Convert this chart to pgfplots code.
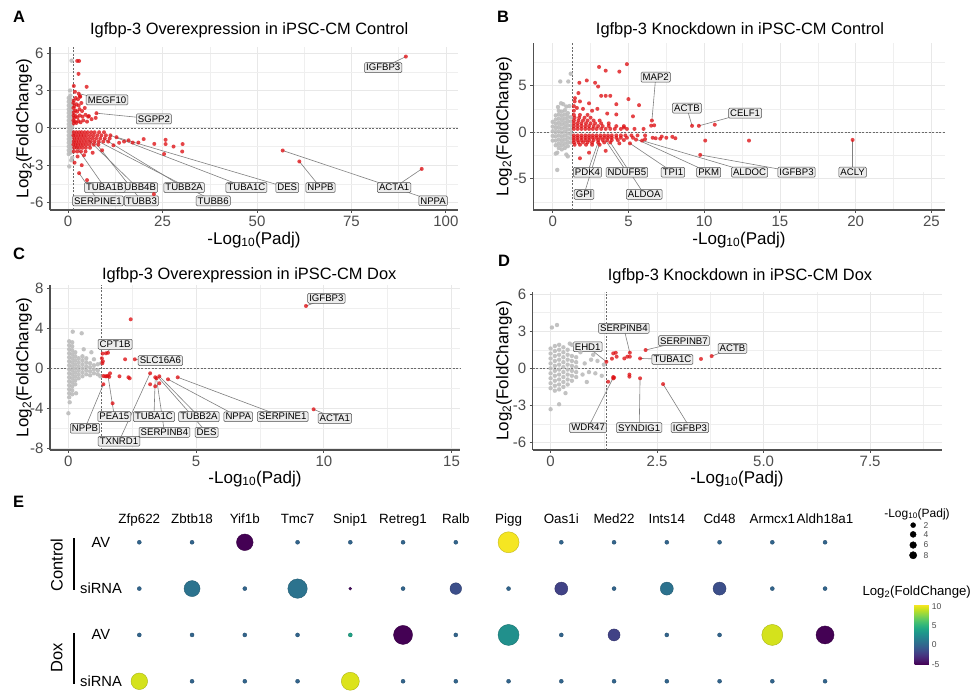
\documentclass[border=0pt]{standalone}
\usepackage{pgfplots}
\pgfplotsset{compat=1.18}
\usepackage{fontspec}
\setmainfont{Liberation Sans}

\definecolor{ptred}{RGB}{222,16,20}
\definecolor{ptgrey}{RGB}{188,188,188}
\definecolor{axgrey}{RGB}{80,80,80}
\definecolor{tickgrey}{RGB}{77,77,77}
\definecolor{gridc}{RGB}{232,232,232}
\definecolor{lblfill}{RGB}{236,236,236}
\newcommand\fs[1]{\fontsize{#1}{#1}\selectfont}

\pgfplotsset{
  volc/.style={
    scale only axis, clip=false,
    axis lines*=left,
    axis line style={draw=axgrey, line width=1.2pt},
    tick align=outside, major tick length=3pt, minor tick length=0pt,
    tick style={draw=axgrey, line width=0.9pt},
    grid=both,
    major grid style={draw=gridc, line width=0.8pt},
    minor grid style={draw=gridc!70, line width=0.5pt},
    tick label style={font=\fs{15}, text=tickgrey},
    /pgf/number format/assume math mode=true,
  },
  grey pts/.style={only marks, mark=*, mark size=2.2pt, color=ptgrey,
    mark options={fill=ptgrey, draw=ptgrey, draw opacity=0, fill opacity=0.9}},
  red pts/.style={only marks, mark=*, mark size=2pt, color=ptred,
    mark options={fill=ptred, draw=ptred, draw opacity=0, fill opacity=0.78}},
}
\tikzset{
  conn/.style={draw=gray, line width=0.6pt},
  lbl/.style={draw=axgrey, line width=0.5pt, fill=lblfill, rounded corners=1.2pt, inner sep=1.6pt, font=\fs{9.6}, text=black},
  thr/.style={draw=axgrey!85, dash pattern=on 2pt off 1.5pt, line width=0.6pt},
}

\begin{document}
\begin{tikzpicture}[x=1pt,y=1pt]
\useasboundingbox (0,0) rectangle (971,692);
\fill[white] (0,0) rectangle (971,692);

% ---------------- A
\begin{axis}[volc, at={(50pt,482pt)}, anchor=south west, width=408pt, height=163pt,
  xmin=-4.8, xmax=103.2, ymin=-6.6, ymax=6.5,
  xtick={0,25,50,75,100}, ytick={-6,-3,0,3,6},
  minor xtick={12.5,37.5,62.5,87.5}, minor ytick={-4.5,-1.5,1.5,4.5}]
\draw[thr] (axis cs:1.301,-6.6) -- (axis cs:1.301,6.5);
\draw[thr] (axis cs:-4.8,0) -- (axis cs:103.2,0);
\addplot[grey pts] coordinates {
(0.15,-2.1)(0.15,-1.8)(0.15,-1.5)(0.15,-1.2)(0.15,-0.9)(0.15,-0.6)(0.15,-0.3)(0.15,0)(0.15,0.3)(0.15,0.6)(0.15,0.9)(0.15,1.2)(0.15,1.5)(0.15,1.8)(0.15,2.1)(0.15,2.4)
(0.6,-2.0)(0.6,-1.65)(0.6,-1.35)(0.6,-1.05)(0.6,-0.75)(0.6,-0.45)(0.6,-0.15)(0.6,0.15)(0.6,0.45)(0.6,0.75)(0.6,1.05)(0.6,1.35)(0.6,1.65)(0.6,1.95)(0.6,2.3)(0.6,2.6)
(1.05,-1.9)(1.05,-1.5)(1.05,-1.1)(1.05,-0.7)(1.05,-0.3)(1.05,0.1)(1.05,0.5)(1.05,0.9)(1.05,1.3)(1.05,1.7)(1.05,2.1)
(0.9,5.4)(0.3,-3.1)(0.8,-2.6)(0.5,3.0)(1.1,-2.4)
};
\addplot[red pts] coordinates {
(1.5,0.35)(1.8,0.5)(2.2,0.4)(2.7,0.55)(3.3,0.45)(4.0,0.6)(5.0,0.5)(6.2,0.7)(7.3,0.8)
(1.6,0.8)(2.0,0.95)(2.5,0.85)(3.1,1.0)(3.8,0.9)(4.6,1.05)(5.5,0.95)
(1.5,1.25)(1.9,1.4)(2.4,1.3)(3.0,1.5)(3.7,1.35)(4.4,1.6)
(1.7,1.75)(2.2,1.9)(2.8,1.8)(3.5,2.0)
(1.5,2.2)(2.0,2.4)(2.6,2.3)(3.2,2.5)
(1.4,0.6)(1.45,1.0)(1.4,1.6)(1.4,2.0)
(2.4,5.38)(2.9,5.38)(2.75,4.34)(1.5,3.37)(4.9,3.3)(2.8,2.75)(3.1,2.55)(7.5,1.18)(5.3,0.9)(1.8,2.9)
(1.5,-0.35)(2.2,-0.35)(2.9,-0.35)(3.6,-0.35)(4.4,-0.35)(5.2,-0.35)(6.1,-0.35)(7.0,-0.35)(8.2,-0.35)(9.5,-0.35)
(1.4,-0.6)(2.0,-0.6)(2.7,-0.6)(3.4,-0.6)(4.1,-0.6)(4.9,-0.6)(5.8,-0.6)(6.7,-0.6)(7.7,-0.6)(8.8,-0.6)(10.0,-0.6)(11.2,-0.6)
(1.6,-0.85)(2.3,-0.85)(3.0,-0.85)(3.8,-0.85)(4.6,-0.85)(5.5,-0.85)(6.4,-0.85)(7.4,-0.85)(8.5,-0.85)(9.7,-0.85)(11.0,-0.85)(12.8,-0.75)
(1.5,-1.1)(2.1,-1.1)(2.8,-1.1)(3.5,-1.1)(4.3,-1.1)(5.1,-1.1)(6.0,-1.1)(7.0,-1.1)(8.1,-1.1)(9.3,-1.1)(10.6,-1.1)(14.8,-1.1)(17.1,-1.18)(18.6,-1.18)
(1.4,-1.35)(2.0,-1.35)(2.6,-1.35)(3.3,-1.35)(4.0,-1.35)(4.8,-1.35)(5.7,-1.35)(6.8,-1.35)(8.0,-1.35)
(1.6,-1.6)(2.3,-1.6)(3.0,-1.6)(3.8,-1.6)(4.7,-1.6)(5.8,-1.6)
(1.5,-1.9)(2.4,-1.9)(3.4,-1.9)(4.6,-1.9)
(22.8,-1.29)(25.8,-0.96)(25.8,-1.3)(27.9,-1.5)(30.3,-1.3)(30.2,-1.9)(25.4,-2.1)(22.7,-5.33)
(2.9,-3.64)(1.7,-2.8)(3.6,-3.0)(5.0,-4.2)(2.5,-2.3)(4.2,-2.2)(6.5,-2.0)(9.0,-1.8)(12.0,-1.4)(13.5,-1.2)(16.0,-1.0)(20.0,-0.9)
(56.8,-1.82)(61.2,-2.7)(93.6,-3.3)(89.4,5.73)
};
\draw[conn] (axis cs:89.4,5.73) -- (axis cs:83.4,4.84);
\draw[conn] (axis cs:2.8,2.75) -- (axis cs:10.3,2.25);
\draw[conn] (axis cs:7.5,1.18) -- (axis cs:22.7,0.72);
\draw[conn] (axis cs:2.0,-1.45) -- (axis cs:9.7,-4.8);
\draw[conn] (axis cs:5.5,-1.0) -- (axis cs:18.3,-4.8);
\draw[conn] (axis cs:9.3,-0.85) -- (axis cs:30.7,-4.8);
\draw[conn] (axis cs:11.2,-0.6) -- (axis cs:47.2,-4.8);
\draw[conn] (axis cs:12.8,-0.75) -- (axis cs:58,-4.8);
\draw[conn] (axis cs:61.2,-2.7) -- (axis cs:66.8,-4.8);
\draw[conn] (axis cs:93.6,-3.3) -- (axis cs:86.3,-4.8);
\draw[conn] (axis cs:56.8,-1.82) -- (axis cs:96.6,-5.86);
\draw[conn] (axis cs:2.9,-3.64) -- (axis cs:7.9,-5.86);
\draw[conn] (axis cs:7.0,-1.1) -- (axis cs:19.4,-5.86);
\draw[conn] (axis cs:8.1,-1.1) -- (axis cs:38.4,-5.86);
\node[lbl] at (axis cs:83.4,4.84) {IGFBP3};
\node[lbl] at (axis cs:10.3,2.25) {MEGF10};
\node[lbl] at (axis cs:22.7,0.72) {SGPP2};
\node[lbl] at (axis cs:18.3,-4.8) {TUBB4B};
\node[lbl] at (axis cs:9.7,-4.8) {TUBA1B};
\node[lbl] at (axis cs:30.7,-4.8) {TUBB2A};
\node[lbl] at (axis cs:47.2,-4.8) {TUBA1C};
\node[lbl] at (axis cs:58,-4.8) {DES};
\node[lbl] at (axis cs:66.8,-4.8) {NPPB};
\node[lbl] at (axis cs:86.3,-4.8) {ACTA1};
\node[lbl] at (axis cs:96.6,-5.86) {NPPA};
\node[lbl] at (axis cs:7.9,-5.86) {SERPINE1};
\node[lbl] at (axis cs:19.4,-5.86) {TUBB3};
\node[lbl] at (axis cs:38.4,-5.86) {TUBB6};
\end{axis}

% ---------------- B
\begin{axis}[volc, at={(533.3pt,482pt)}, anchor=south west, width=411.7pt, height=167pt,
  xmin=-1.28, xmax=25.9, ymin=-8.35, ymax=9.57,
  xtick={0,5,10,15,20,25}, ytick={-5,0,5},
  minor xtick={2.5,7.5,12.5,17.5,22.5}, minor ytick={-7.5,-2.5,2.5,7.5}]
\draw[thr] (axis cs:1.301,-8.35) -- (axis cs:1.301,9.57);
\draw[thr] (axis cs:-1.28,0) -- (axis cs:25.9,0);
\addplot[grey pts] coordinates {
(0.0,-0.9)(0.0,-0.4)(0.0,0.1)(0.0,0.6)(0.0,1.1)
(0.2,-1.4)(0.2,-0.9)(0.2,-0.45)(0.2,0)(0.2,0.45)(0.2,0.9)(0.2,1.35)(0.2,1.8)
(0.4,-1.7)(0.4,-1.25)(0.4,-0.8)(0.4,-0.35)(0.4,0.1)(0.4,0.55)(0.4,1.0)(0.4,1.45)(0.4,1.9)(0.4,2.3)
(0.6,-1.85)(0.6,-1.4)(0.6,-0.95)(0.6,-0.5)(0.6,-0.05)(0.6,0.4)(0.6,0.85)(0.6,1.3)(0.6,1.75)(0.6,2.2)
(0.8,-1.7)(0.8,-1.25)(0.8,-0.8)(0.8,-0.35)(0.8,0.1)(0.8,0.55)(0.8,1.0)(0.8,1.45)(0.8,1.9)(0.8,2.35)
(1.0,-1.5)(1.0,-1.05)(1.0,-0.6)(1.0,-0.15)(1.0,0.3)(1.0,0.75)(1.0,1.2)(1.0,1.65)(1.0,2.05)
(1.2,-1.1)(1.2,-0.65)(1.2,-0.2)(1.2,0.25)(1.2,0.7)(1.2,1.15)(1.2,1.6)
(0.5,5.44)(1.03,5.44)(1.19,6.27)(0.3,-4.05)(1.0,-2.6)(0.3,-2.2)(0.55,3.1)(0.9,2.75)(0.2,-2.3)(0.9,-2.4)(1.1,2.8)(0.7,3.0)(0.35,2.7)
};
\addplot[red pts] coordinates {
(1.4,0.35)(1.65,0.35)(1.9,0.35)(2.15,0.35)(2.4,0.35)(2.65,0.35)(2.9,0.35)(3.2,0.35)(3.5,0.35)(3.8,0.35)(4.1,0.35)(4.5,0.35)(4.9,0.35)(5.4,0.35)(6.0,0.35)
(1.4,0.65)(1.65,0.65)(1.9,0.65)(2.15,0.65)(2.4,0.65)(2.7,0.65)(3.0,0.65)(3.3,0.65)(3.7,0.65)(4.2,0.65)(4.7,0.65)
(1.4,0.95)(1.65,0.95)(1.9,0.95)(2.2,0.95)(2.5,0.95)(2.8,0.95)(3.2,0.95)(3.7,0.95)
(1.4,1.25)(1.7,1.25)(2.0,1.25)(2.3,1.25)(2.7,1.25)(3.1,1.25)
(1.45,1.55)(1.75,1.55)(2.1,1.55)(2.5,1.55)
(1.4,1.85)(1.8,1.85)(2.3,1.85)
(1.4,2.3)(1.4,2.8)(1.45,3.3)(1.6,2.6)
(1.4,-0.35)(1.65,-0.35)(1.9,-0.35)(2.15,-0.35)(2.4,-0.35)(2.65,-0.35)(2.9,-0.35)(3.15,-0.35)(3.4,-0.35)(3.65,-0.35)(3.9,-0.35)(4.2,-0.35)(4.5,-0.35)(4.8,-0.35)(5.2,-0.35)(5.6,-0.35)(6.1,-0.35)
(1.4,-0.6)(1.65,-0.6)(1.9,-0.6)(2.15,-0.6)(2.4,-0.6)(2.65,-0.6)(2.9,-0.6)(3.15,-0.6)(3.4,-0.6)(3.65,-0.6)(3.9,-0.6)(4.2,-0.6)(4.5,-0.6)(4.9,-0.6)(5.3,-0.6)
(1.4,-0.85)(1.65,-0.85)(1.9,-0.85)(2.15,-0.85)(2.4,-0.85)(2.7,-0.85)(3.0,-0.85)(3.3,-0.85)(3.6,-0.85)(3.9,-0.85)(4.3,-0.85)(4.7,-0.85)
(1.4,-1.1)(1.7,-1.1)(2.0,-1.1)(2.3,-1.1)(2.6,-1.1)(3.0,-1.1)(3.4,-1.1)(3.8,-1.1)
(1.45,-1.35)(1.8,-1.35)(2.2,-1.35)(2.6,-1.35)(3.1,-1.35)
(3.06,7.0)(4.9,7.3)(3.5,6.6)(4.4,6.5)(1.76,5.3)(2.25,5.55)(2.8,5.3)(3.0,4.9)(3.5,3.9)(3.2,3.9)(3.8,3.9)(4.2,3.0)(5.0,3.55)(5.7,2.9)(5.3,1.7)(1.47,3.65)(1.8,3.3)(2.4,3.1)(2.6,2.3)(2.95,2.5)(3.6,2.0)(4.2,1.9)(1.7,4.2)(2.0,2.5)(4.7,0.5)(6.5,0.7)(6.55,1.25)(6.7,0.74)
(1.8,-2.8)(2.4,-2.2)(3.5,-2.0)(6.8,-0.65)(7.1,-0.7)(7.5,-0.6)(8.1,-0.65)(6.1,-0.75)(5.5,-0.8)(5.1,-1.2)(4.4,-1.2)(7.2,-0.47)(7.9,-0.5)(6.6,-0.6)(5.9,-0.9)
(10.07,-0.9)(12.96,-0.9)(19.8,-0.83)(9.74,-2.44)(9.2,0.68)(9.65,0.68)(10.7,0.8)
};
\draw[conn] (axis cs:6.55,1.25) -- (axis cs:6.8,5.9);
\draw[conn] (axis cs:9.2,0.68) -- (axis cs:8.86,2.58);
\draw[conn] (axis cs:9.65,0.68) -- (axis cs:12.7,2.04);
\draw[conn] (axis cs:3.0,-1.1) -- (axis cs:2.3,-4.3);
\draw[conn] (axis cs:3.1,-1.2) -- (axis cs:2.07,-6.67);
\draw[conn] (axis cs:3.5,-0.9) -- (axis cs:4.9,-4.3);
\draw[conn] (axis cs:3.8,-1.1) -- (axis cs:6.04,-6.67);
\draw[conn] (axis cs:5.1,-1.2) -- (axis cs:7.94,-4.3);
\draw[conn] (axis cs:5.6,-0.8) -- (axis cs:10.3,-4.3);
\draw[conn] (axis cs:5.9,-0.9) -- (axis cs:13.0,-4.3);
\draw[conn] (axis cs:9.74,-2.44) -- (axis cs:16.1,-4.3);
\draw[conn] (axis cs:19.8,-0.83) -- (axis cs:19.8,-4.3);
\node[lbl] at (axis cs:6.8,5.9) {MAP2};
\node[lbl] at (axis cs:8.86,2.58) {ACTB};
\node[lbl] at (axis cs:12.7,2.04) {CELF1};
\node[lbl] at (axis cs:2.3,-4.3) {PDK4};
\node[lbl] at (axis cs:2.07,-6.67) {GPI};
\node[lbl] at (axis cs:4.9,-4.3) {NDUFB5};
\node[lbl] at (axis cs:6.04,-6.67) {ALDOA};
\node[lbl] at (axis cs:7.94,-4.3) {TPI1};
\node[lbl] at (axis cs:10.3,-4.3) {PKM};
\node[lbl] at (axis cs:13.0,-4.3) {ALDOC};
\node[lbl] at (axis cs:16.1,-4.3) {IGFBP3};
\node[lbl] at (axis cs:19.8,-4.3) {ACLY};
\end{axis}

% ---------------- C
\begin{axis}[volc, at={(50pt,242pt)}, anchor=south west, width=410pt, height=165pt,
  xmin=-0.72, xmax=15.33, ymin=-8.17, ymax=8.33,
  xtick={0,5,10,15}, ytick={-8,-4,0,4,8},
  minor xtick={2.5,7.5,12.5}, minor ytick={-6,-2,2,6}]
\draw[thr] (axis cs:1.301,-8.17) -- (axis cs:1.301,8.33);
\draw[thr] (axis cs:-0.72,0) -- (axis cs:15.33,0);
\addplot[grey pts] coordinates {
(0.03,-2.9)(0.03,-2.5)(0.03,-2.1)(0.03,-1.7)(0.03,-1.3)(0.03,-0.9)(0.03,-0.5)(0.03,-0.1)(0.03,0.3)(0.03,0.7)(0.03,1.1)(0.03,1.5)(0.03,1.9)(0.03,2.3)(0.03,2.7)
(0.15,-2.6)(0.15,-2.2)(0.15,-1.8)(0.15,-1.4)(0.15,-1.0)(0.15,-0.6)(0.15,-0.2)(0.15,0.2)(0.15,0.6)(0.15,1.0)(0.15,1.4)(0.15,1.8)(0.15,2.2)(0.15,2.6)
(0.27,-1.6)(0.27,-1.2)(0.27,-0.8)(0.27,-0.4)(0.27,0)(0.27,0.4)(0.27,0.8)(0.27,1.2)(0.27,1.6)
(0.4,-1.0)(0.4,-0.6)(0.4,-0.2)(0.4,0.2)(0.4,0.6)(0.4,1.0)
(0.55,-0.8)(0.55,-0.4)(0.55,0)(0.55,0.4)(0.55,0.8)(0.55,1.2)
(0.7,-0.6)(0.7,-0.2)(0.7,0.2)(0.7,0.6)(0.7,1.0)
(0.85,-0.7)(0.85,-0.3)(0.85,0.1)(0.85,0.5)
(1.0,-0.5)(1.0,-0.1)(1.0,0.3)(1.0,0.9)
(1.15,-0.6)(1.15,-0.2)(1.15,0.4)(1.25,-0.8)(1.28,0.5)
(0.17,3.66)(0.52,3.5)(0.0,-4.5)(0.05,-3.4)(0.3,-2.5)(0.6,1.9)(0.9,1.6)
};
\addplot[red pts] coordinates {
(9.3,6.23)(9.6,-4.1)(2.44,4.9)(1.34,1.47)(1.47,1.5)(1.55,1.55)(2.6,0.9)(2.22,0.9)(1.31,1.0)(1.33,0.5)(1.35,0.7)
(1.37,-0.77)(1.45,-0.8)(1.5,-0.8)(1.55,-0.75)(1.6,-0.85)(1.63,-0.5)(2.0,-0.8)(2.35,-0.9)(2.4,-1.0)
(3.2,-0.5)(3.2,-1.6)(3.4,-1.8)(3.4,-0.9)(3.45,-1.0)(3.56,-0.8)(3.56,-1.5)(3.9,-1.1)(4.28,-0.9)(1.73,-3.5)(1.37,-1.6)
};
\draw[conn] (axis cs:9.3,6.23) -- (axis cs:10.1,7.0);
\draw[conn] (axis cs:1.47,1.5) -- (axis cs:1.83,2.4);
\draw[conn] (axis cs:2.6,0.9) -- (axis cs:3.6,0.76);
\draw[conn] (axis cs:9.6,-4.1) -- (axis cs:10.43,-5.0);
\draw[conn] (axis cs:1.55,-0.75) -- (axis cs:1.8,-4.84);
\draw[conn] (axis cs:1.37,-1.6) -- (axis cs:0.65,-6.0);
\draw[conn] (axis cs:3.2,-0.5) -- (axis cs:1.98,-7.3);
\draw[conn] (axis cs:3.4,-0.9) -- (axis cs:3.35,-4.84);
\draw[conn] (axis cs:3.45,-1.0) -- (axis cs:3.76,-6.4);
\draw[conn] (axis cs:3.56,-0.8) -- (axis cs:5.11,-4.84);
\draw[conn] (axis cs:3.5,-0.85) -- (axis cs:5.41,-6.4);
\draw[conn] (axis cs:3.9,-1.1) -- (axis cs:6.65,-4.84);
\draw[conn] (axis cs:4.28,-0.9) -- (axis cs:8.39,-4.84);
\node[lbl] at (axis cs:10.1,7.0) {IGFBP3};
\node[lbl] at (axis cs:1.83,2.4) {CPT1B};
\node[lbl] at (axis cs:3.6,0.76) {SLC16A6};
\node[lbl] at (axis cs:10.43,-5.0) {ACTA1};
\node[lbl] at (axis cs:1.8,-4.84) {PEA15};
\node[lbl] at (axis cs:0.65,-6.0) {NPPB};
\node[lbl] at (axis cs:1.98,-7.3) {TXNRD1};
\node[lbl] at (axis cs:3.35,-4.84) {TUBA1C};
\node[lbl] at (axis cs:3.76,-6.4) {SERPINB4};
\node[lbl] at (axis cs:5.11,-4.84) {TUBB2A};
\node[lbl] at (axis cs:5.41,-6.4) {DES};
\node[lbl] at (axis cs:6.65,-4.84) {NPPA};
\node[lbl] at (axis cs:8.39,-4.84) {SERPINE1};
\end{axis}

% ---------------- D
\begin{axis}[volc, at={(532.7pt,242pt)}, anchor=south west, width=409pt, height=158.3pt,
  xmin=-0.42, xmax=9.18, ymin=-6.59, ymax=6.19,
  xtick={0,2.5,5,7.5}, xticklabels={0,2.5,5.0,7.5}, ytick={-6,-3,0,3,6},
  minor xtick={1.25,3.75,6.25,8.75}, minor ytick={-4.5,-1.5,1.5,4.5}]
\draw[thr] (axis cs:1.301,-6.59) -- (axis cs:1.301,6.19);
\draw[thr] (axis cs:-0.42,0) -- (axis cs:9.18,0);
\addplot[grey pts] coordinates {
(0.0,-1.6)(0.0,-1.2)(0.0,-0.8)(0.0,-0.4)(0.0,0)(0.0,0.4)(0.0,0.8)(0.0,1.2)(0.0,1.6)
(0.1,-1.8)(0.1,-1.4)(0.1,-1.0)(0.1,-0.6)(0.1,-0.2)(0.1,0.2)(0.1,0.6)(0.1,1.0)(0.1,1.4)(0.1,1.8)
(0.2,-1.7)(0.2,-1.3)(0.2,-0.9)(0.2,-0.5)(0.2,-0.1)(0.2,0.3)(0.2,0.7)(0.2,1.1)(0.2,1.5)(0.2,1.9)
(0.3,-1.5)(0.3,-1.1)(0.3,-0.7)(0.3,-0.3)(0.3,0.1)(0.3,0.5)(0.3,0.9)(0.3,1.3)(0.3,1.7)
(0.4,-1.3)(0.4,-0.9)(0.4,-0.5)(0.4,-0.1)(0.4,0.3)(0.4,0.7)(0.4,1.1)(0.4,1.5)
(0.5,-1.0)(0.5,-0.6)(0.5,-0.2)(0.5,0.2)(0.5,0.6)(0.5,1.0)(0.5,1.9)
(0.6,-0.7)(0.6,-0.3)(0.6,0.1)(0.6,0.5)(0.6,0.9)
(0.75,-0.5)(0.8,0.4)(0.9,-0.3)(0.95,0.7)(1.05,-0.4)(1.1,0.6)(1.2,-0.6)(1.25,0.3)(0.7,1.3)(0.85,-1.1)(1.0,1.1)
(0.03,3.3)(0.15,3.5)(0.0,-3.3)(0.2,-2.9)(0.45,2.0)(0.35,-2.0)
};
\addplot[red pts] coordinates {
(1.31,0.53)(1.47,1.21)(1.53,1.26)(1.44,0.78)(1.55,0.94)(1.73,0.8)(1.8,0.94)(1.86,0.94)(1.86,1.26)(2.23,1.48)(2.1,0.8)(3.53,0.76)(3.78,0.99)
(1.35,-1.08)(1.47,-0.81)(1.47,-0.7)(1.49,-0.75)(1.85,-0.5)(1.85,-0.67)(2.1,-0.8)(2.64,-1.27)
};
\draw[conn] (axis cs:1.86,1.26) -- (axis cs:1.72,3.23);
\draw[conn] (axis cs:2.23,1.48) -- (axis cs:3.13,2.23);
\draw[conn] (axis cs:1.31,0.53) -- (axis cs:0.87,1.74);
\draw[conn] (axis cs:3.78,0.99) -- (axis cs:4.27,1.61);
\draw[conn] (axis cs:2.1,0.8) -- (axis cs:2.86,0.72);
\draw[conn] (axis cs:1.47,-0.75) -- (axis cs:0.88,-4.79);
\draw[conn] (axis cs:2.1,-0.8) -- (axis cs:2.08,-4.79);
\draw[conn] (axis cs:2.64,-1.27) -- (axis cs:3.27,-4.79);
\node[lbl] at (axis cs:1.72,3.23) {SERPINB4};
\node[lbl] at (axis cs:3.13,2.23) {SERPINB7};
\node[lbl] at (axis cs:0.87,1.74) {EHD1};
\node[lbl] at (axis cs:4.27,1.61) {ACTB};
\node[lbl] at (axis cs:2.86,0.72) {TUBA1C};
\node[lbl] at (axis cs:0.88,-4.79) {WDR47};
\node[lbl] at (axis cs:2.08,-4.79) {SYNDIG1};
\node[lbl] at (axis cs:3.27,-4.79) {IGFBP3};
\end{axis}

% ---------------- E
\begin{axis}[at={(86.55pt,-7.8pt)}, anchor=south west, scale only axis,
  width=791.25pt, height=176.05pt,
  xmin=-1, xmax=14, ymin=-0.4, ymax=3.4, clip=false,
  axis line style={draw=none}, xtick=\empty, ytick=\empty,
  colormap/viridis, point meta min=-5, point meta max=10.5,
  colorbar,
  colorbar style={at={(parent axis.south west)}, anchor=south west,
    xshift=819.45pt, yshift=35.5pt, width=15.7pt, height=60pt, scale only axis,
    ytick={-5,0,5,10}, yticklabel style={font=\fs{8.5}, text=tickgrey, xshift=-2pt},
    axis line style={draw=none}, major tick length=0pt,
    /pgf/number format/assume math mode=true}]
\addplot[scatter, only marks, mark=*, scatter src=explicit,
  visualization depends on={\thisrow{p} \as \pv},
  scatter/@pre marker code/.append style={/tikz/mark size=1.5+\pv}]
table[x=x, y=y, meta=fc] {
x y fc p
0 3 0 0.5
1 3 0 0.5
2 3 -5 6.8
3 3 0 0.5
4 3 0 0.5
5 3 0 0.5
6 3 0 0.5
7 3 10.3 9
8 3 0 0.5
9 3 0 0.5
10 3 0 0.5
11 3 0 0.5
12 3 0 0.5
13 3 0 0.5
0 2 0 0.5
1 2 0.9 6.5
2 2 0 0.5
3 2 0.9 8.2
4 2 -4.5 0
5 2 0 0.5
6 2 -1.3 4.3
7 2 0 0.5
8 2 -2 5
9 2 0 0.5
10 2 0.8 5
11 2 -1.3 5
12 2 0 0.5
13 2 0 0.5
0 1 0 0.5
1 1 0 0.5
2 1 0 0.5
3 1 0 0.5
4 1 4 0.5
5 1 -5 8
6 1 0 0.5
7 1 2.75 9
8 1 0 0.5
9 1 -2 4.5
10 1 0 0.5
11 1 0 0.5
12 1 9.5 9
13 1 -5 7.5
0 0 9.5 6.8
1 0 0 0.5
2 0 0 0.5
3 0 0 0.5
4 0 9.7 7.5
5 0 0 0.5
6 0 0 0.5
7 0 0 0.5
8 0 0 0.5
9 0 0 0.5
10 0 0 0.5
11 0 0 0.5
12 0 0 0.5
13 0 0 0.5
};
\addplot[only marks, mark=*, black, mark size=2.5pt] coordinates {(14.67,3.37)};
\addplot[only marks, mark=*, black, mark size=3.0pt] coordinates {(14.67,3.17)};
\addplot[only marks, mark=*, black, mark size=3.35pt] coordinates {(14.67,2.94)};
\addplot[only marks, mark=*, black, mark size=3.65pt] coordinates {(14.67,2.72)};
\node[font=\fs{8.5}, text=tickgrey, anchor=west] at (axis cs:14.8,3.37) {2};
\node[font=\fs{8.5}, text=tickgrey, anchor=west] at (axis cs:14.8,3.17) {4};
\node[font=\fs{8.5}, text=tickgrey, anchor=west] at (axis cs:14.8,2.94) {6};
\node[font=\fs{8.5}, text=tickgrey, anchor=west] at (axis cs:14.8,2.72) {8};
\draw[line width=2pt] (axis cs:-1.238,3.09) -- (axis cs:-1.238,1.97);
\draw[line width=2pt] (axis cs:-1.238,1.04) -- (axis cs:-1.238,-0.06);
\end{axis}

% ---------------- texts
\begin{scope}[every node/.style={inner sep=0pt}]
\node[font=\bfseries\fs{16.5}, anchor=base west] at (13,669) {A};
\node[font=\bfseries\fs{16.5}, anchor=base west] at (497,669) {B};
\node[font=\bfseries\fs{16.5}, anchor=base west] at (13,432) {C};
\node[font=\bfseries\fs{16.5}, anchor=base west] at (498,425) {D};
\node[font=\bfseries\fs{16.5}, anchor=base west] at (13,184) {E};
\node[font=\fs{16.4}, anchor=base] at (249.2,657) {Igfbp-3 Overexpression in iPSC-CM Control};
\node[font=\fs{16.4}, anchor=base] at (740,657) {Igfbp-3 Knockdown in iPSC-CM Control};
\node[font=\fs{16.4}, anchor=base] at (249.2,412) {Igfbp-3 Overexpression in iPSC-CM Dox};
\node[font=\fs{16.4}, anchor=base] at (740,411.5) {Igfbp-3 Knockdown in iPSC-CM Dox};
\node[font=\fs{17}, rotate=90] at (24,563.5) {Log\textsubscript{2}(FoldChange)};
\node[font=\fs{17}, rotate=90] at (504,565.5) {Log\textsubscript{2}(FoldChange)};
\node[font=\fs{17}, rotate=90] at (24,324.5) {Log\textsubscript{2}(FoldChange)};
\node[font=\fs{17}, rotate=90] at (504,321.1) {Log\textsubscript{2}(FoldChange)};
\node[font=\fs{17}] at (254,452) {-Log\textsubscript{10}(Padj)};
\node[font=\fs{17}] at (739,452) {-Log\textsubscript{10}(Padj)};
\node[font=\fs{17}] at (255,213) {-Log\textsubscript{10}(Padj)};
\node[font=\fs{17}] at (737,213) {-Log\textsubscript{10}(Padj)};
\foreach \lab/\px in {Zfp622/139.3, Zbtb18/192.05, Yif1b/244.8, Tmc7/297.55, Snip1/350.3, Retreg1/403.05, Ralb/455.8, Pigg/508.55, Oas1i/561.3, Med22/614.05, Ints14/666.8, Cd48/719.55, Armcx1/772.3, Aldh18a1/825.05}
  {\node[font=\fs{13.4}, anchor=base] at (\px,168) {\lab};}
\node[font=\fs{14.7}] at (101,149.7) {AV};
\node[font=\fs{14.7}] at (101,103.4) {siRNA};
\node[font=\fs{14.7}] at (101,57.1) {AV};
\node[font=\fs{14.7}] at (101,10.7) {siRNA};
\node[font=\fs{16.5}, rotate=90] at (56.7,127) {Control};
\node[font=\fs{16.5}, rotate=90] at (56.7,34) {Dox};
\node[font=\fs{12}] at (917,178) {-Log\textsubscript{10}(Padj)};
\node[font=\fs{13.2}] at (916.7,100.3) {Log\textsubscript{2}(FoldChange)};
\end{scope}
\end{tikzpicture}
\end{document}
